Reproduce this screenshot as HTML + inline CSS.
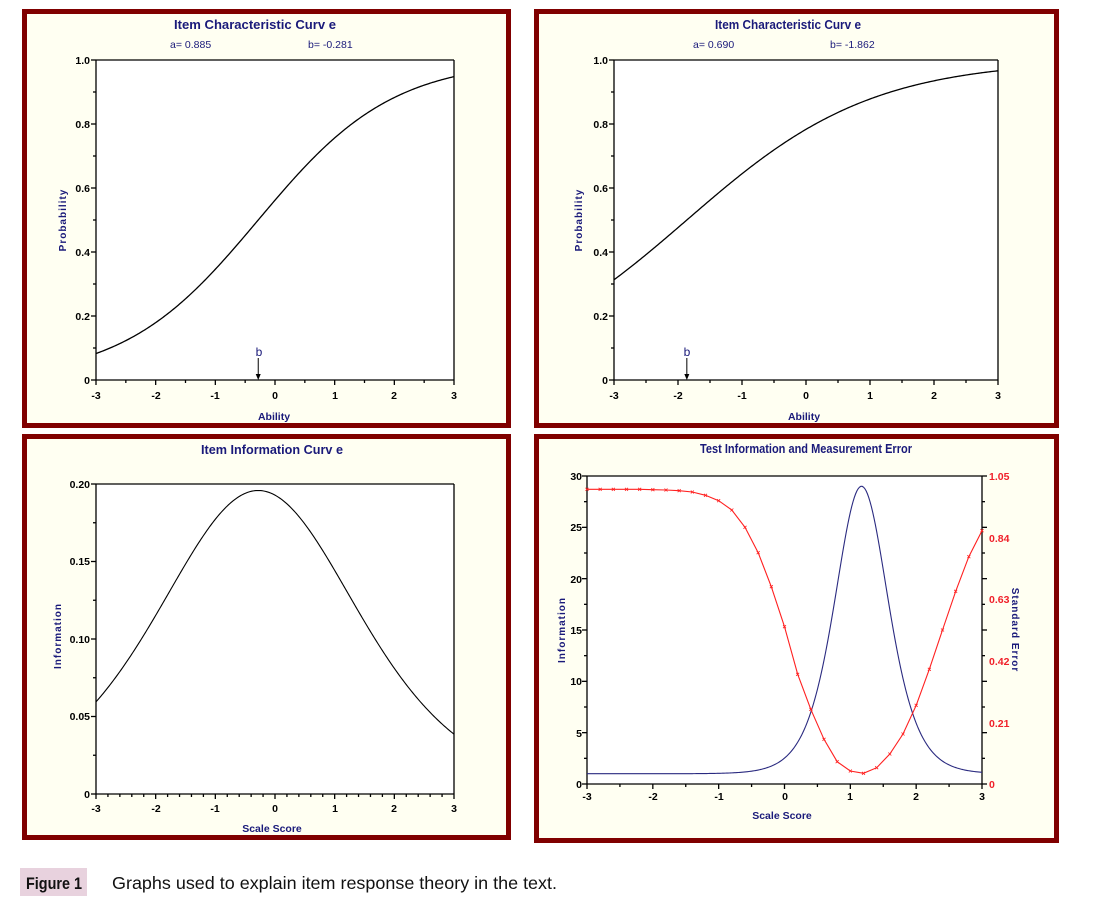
<!DOCTYPE html>
<html><head><meta charset="utf-8"><style>
body{margin:0;background:#fff;}
svg{display:block;font-family:"Liberation Sans",sans-serif;}
.t{font-weight:bold;fill:#1a1a7a;font-size:13px;}
.tk{font-weight:bold;font-size:10.5px;fill:#000;}
.ax{font-weight:bold;fill:#1a1a7a;font-size:10.5px;}
.yl{font-weight:bold;fill:#1a1a7a;font-size:10px;letter-spacing:1px;}
.rd{font-weight:bold;font-size:10.5px;fill:#f0202a;}
</style></head><body>
<svg id="s" width="1094" height="914" viewBox="0 0 1094 914">
<g fill="#fffff2" stroke="#800000" stroke-width="5">
<rect x="24.5" y="11.5" width="484" height="414"/>
<rect x="536.5" y="11.5" width="520" height="414"/>
<rect x="24.5" y="436.5" width="484" height="401"/>
<rect x="536.5" y="436.5" width="520" height="404"/>
</g>
<g fill="#fff" stroke="none">
<rect x="96" y="60" width="358" height="320"/>
<rect x="614" y="60" width="384" height="320"/>
<rect x="96" y="484" width="358" height="310"/>
<rect x="587" y="476" width="395" height="308"/>
</g>
<g id="axes" stroke="#000" stroke-width="1.3" fill="none"></g>
<g id="curves" fill="none"></g>
<text class="t" x="255" y="29" text-anchor="middle" textLength="162" lengthAdjust="spacingAndGlyphs">Item Characteristic Curv e</text>
<text x="170" y="48" font-size="10.5" fill="#1a1a7a">a=  0.885</text>
<text x="308" y="48" font-size="10.5" fill="#1a1a7a">b=  -0.281</text>
<g class="tk" text-anchor="end">
<text x="90" y="64">1.0</text><text x="90" y="128">0.8</text><text x="90" y="192">0.6</text><text x="90" y="256">0.4</text><text x="90" y="320">0.2</text><text x="90" y="384">0</text>
</g>
<g class="tk" text-anchor="middle">
<text x="96" y="399">-3</text><text x="156" y="399">-2</text><text x="215" y="399">-1</text><text x="275" y="399">0</text><text x="335" y="399">1</text><text x="394" y="399">2</text><text x="454" y="399">3</text>
</g>
<text class="ax" x="274" y="420" text-anchor="middle">Ability</text>
<text class="yl" transform="translate(66,220) rotate(-90)" text-anchor="middle">Probability</text>
<text x="259" y="356" font-size="12" fill="#1a1a7a" text-anchor="middle">b</text>
<text class="t" x="788" y="29" text-anchor="middle" textLength="146" lengthAdjust="spacingAndGlyphs">Item Characteristic Curv e</text>
<text x="693" y="48" font-size="10.5" fill="#1a1a7a">a=  0.690</text>
<text x="830" y="48" font-size="10.5" fill="#1a1a7a">b=  -1.862</text>
<g class="tk" text-anchor="end">
<text x="608" y="64">1.0</text><text x="608" y="128">0.8</text><text x="608" y="192">0.6</text><text x="608" y="256">0.4</text><text x="608" y="320">0.2</text><text x="608" y="384">0</text>
</g>
<g class="tk" text-anchor="middle">
<text x="614" y="399">-3</text><text x="678" y="399">-2</text><text x="742" y="399">-1</text><text x="806" y="399">0</text><text x="870" y="399">1</text><text x="934" y="399">2</text><text x="998" y="399">3</text>
</g>
<text class="ax" x="804" y="420" text-anchor="middle">Ability</text>
<text class="yl" transform="translate(582,220) rotate(-90)" text-anchor="middle">Probability</text>
<text x="687" y="356" font-size="12" fill="#1a1a7a" text-anchor="middle">b</text>
<text class="t" x="272" y="454" text-anchor="middle" textLength="142" lengthAdjust="spacingAndGlyphs">Item Information Curv e</text>
<g class="tk" text-anchor="end">
<text x="90" y="488">0.20</text><text x="90" y="565">0.15</text><text x="90" y="643">0.10</text><text x="90" y="720">0.05</text><text x="90" y="798">0</text>
</g>
<g class="tk" text-anchor="middle">
<text x="96" y="812">-3</text><text x="156" y="812">-2</text><text x="215" y="812">-1</text><text x="275" y="812">0</text><text x="335" y="812">1</text><text x="394" y="812">2</text><text x="454" y="812">3</text>
</g>
<text class="ax" x="272" y="832" text-anchor="middle">Scale Score</text>
<text class="yl" transform="translate(61,636) rotate(-90)" text-anchor="middle">Information</text>
<text class="t" x="806" y="453" text-anchor="middle" font-size="12.5" textLength="212" lengthAdjust="spacingAndGlyphs">Test Information and Measurement Error</text>
<g class="tk" text-anchor="end">
<text x="582" y="480">30</text><text x="582" y="531">25</text><text x="582" y="583">20</text><text x="582" y="634">15</text><text x="582" y="685">10</text><text x="582" y="737">5</text><text x="582" y="788">0</text>
</g>
<g class="rd">
<text x="989" y="480">1.05</text><text x="989" y="542">0.84</text><text x="989" y="603">0.63</text><text x="989" y="665">0.42</text><text x="989" y="727">0.21</text><text x="989" y="788">0</text>
</g>
<g class="tk" text-anchor="middle">
<text x="587" y="800">-3</text><text x="653" y="800">-2</text><text x="719" y="800">-1</text><text x="785" y="800">0</text><text x="850" y="800">1</text><text x="916" y="800">2</text><text x="982" y="800">3</text>
</g>
<text class="ax" x="782" y="819" text-anchor="middle">Scale Score</text>
<text class="yl" transform="translate(565,630) rotate(-90)" text-anchor="middle">Information</text>
<text class="yl" transform="translate(1012,630) rotate(90)" text-anchor="middle" font-size="10.5">Standard Error</text>
<rect x="20" y="868" width="67" height="28" fill="#e8d2de"/>
<text x="26" y="889" font-size="17" font-weight="bold" fill="#111" textLength="56" lengthAdjust="spacingAndGlyphs">Figure 1</text>
<text x="112" y="889" font-size="17.5" fill="#111" textLength="445" lengthAdjust="spacingAndGlyphs">Graphs used to explain item response theory in the text.</text>
</svg>
<script>
(function(){
var NS="http://www.w3.org/2000/svg";
var ax=document.getElementById("axes"),cv=document.getElementById("curves");
function el(p,t,a){var e=document.createElementNS(NS,t);for(var k in a)e.setAttribute(k,a[k]);p.appendChild(e);return e;}
function line(x1,y1,x2,y2,col){el(ax,"line",{x1:x1,y1:y1,x2:x2,y2:y2,stroke:col||"#000"});}
function frame(x0,x1,y0,y1,xn,xminor,ymaj,ymin,right){
 line(x0,y0,x1,y0);line(x0,y0,x0,y1);line(x0,y1,x1,y1);line(x1,y0,x1,y1);
 for(var i=0;i<=xn*xminor;i++){var x=x0+(x1-x0)*i/(xn*xminor);var L=(i%xminor==0)?5:3;line(x,y1,x,y1+L);}
 for(var j=0;j<=ymaj*ymin;j++){var y=y1-(y1-y0)*j/(ymaj*ymin);var L=(j%ymin==0)?5:3;line(x0-L,y,x0,y);if(right)line(x1,y,x1+L,y);}
}
frame(96,454,60,380,6,2,5,2,false);
frame(614,998,60,380,6,2,5,2,false);
frame(96,454,484,794,6,5,4,2,false);
frame(587,982,476,784,6,2,6,2,true);
function path(f,x0,x1,y0,y1,ymax,col,w){
 var d="";for(var i=0;i<=300;i++){var t=-3+6*i/300;var v=f(t);var x=x0+(x1-x0)*i/300;var y=y1-(y1-y0)*v/ymax;d+=(i?"L":"M")+x.toFixed(2)+","+y.toFixed(2);}
 el(cv,"path",{d:d,stroke:col,"stroke-width":w||1.3});
}
function P(a,b){return function(t){return 1/(1+Math.exp(-a*(t-b)));};}
path(P(0.885,-0.281),96,454,60,380,1,"#000");
path(P(0.69,-1.862),614,998,60,380,1,"#000");
path(function(t){var p=P(0.885,-0.281)(t);return 0.885*0.885*p*(1-p);},96,454,484,794,0.2,"#000",1.1);
path(function(t){var p=1/(1+Math.exp(-3.65*(t-1.17)));return 1+28*4*p*(1-p);},587,982,476,784,30,"#2a2a80",1.1);
function arrow(x){el(cv,"line",{x1:x,y1:358,x2:x,y2:376,stroke:"#000","stroke-width":1});el(cv,"path",{d:"M"+(x-2.5)+",374L"+(x+2.5)+",374L"+x+",380Z",fill:"#000"});}
arrow(96+358*(3-0.281)/6);arrow(614+384*(3-1.862)/6);
var z=[178,178,178,178,178,179,180,182,186,196,212,240,292,368,470,590,733,838,928,995,1023,1030,1013,972,912,826,718,600,484,380,302];
var d="",pts=[];
for(var i=0;i<z.length;i++){var x=587+395*i/30;var y=476+308*(z[i]-138)/924;pts.push([x,y]);d+=(i?"L":"M")+x.toFixed(1)+","+y.toFixed(1);}
el(cv,"path",{d:d,stroke:"#ff2020","stroke-width":1.1});
pts.forEach(function(p){el(cv,"path",{d:"M"+(p[0]-1.5)+","+(p[1]-1.5)+"l3,3M"+(p[0]+1.5)+","+(p[1]-1.5)+"l-3,3",stroke:"#ff2020","stroke-width":0.8});});
})();
</script>
</body></html>
